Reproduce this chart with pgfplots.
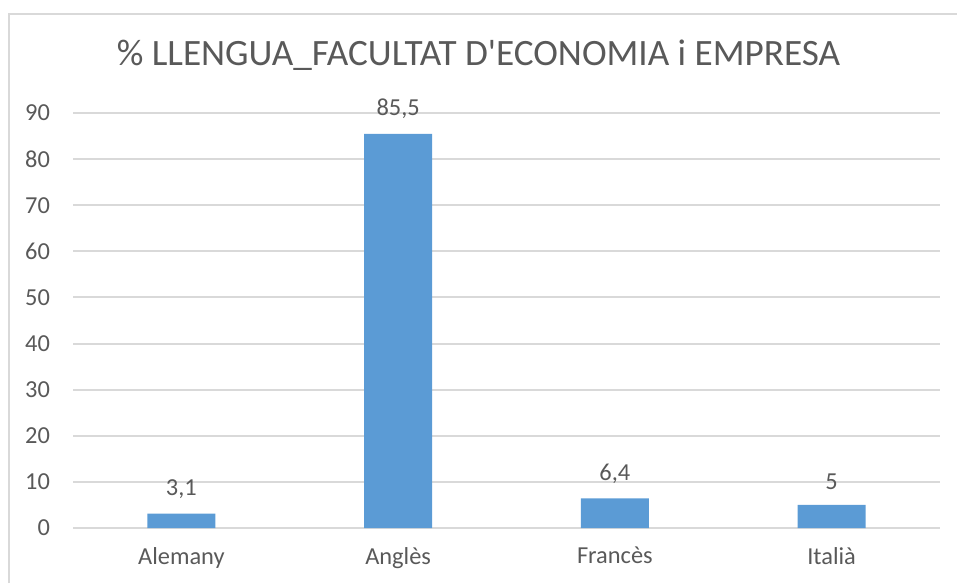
\documentclass[border=0pt]{standalone}
\usepackage{pgfplots}
\pgfplotsset{compat=1.18}
\usepackage{fontspec}
\setmainfont{Carlito}
\definecolor{barblue}{HTML}{5B9BD5}
\definecolor{gridgray}{HTML}{D9D9D9}
\definecolor{txtgray}{HTML}{595959}
\begin{document}
\begin{tikzpicture}
\useasboundingbox (0,0) rectangle (478.5pt,291.5pt);
\draw[gridgray, line width=1pt] (4.5pt,0pt) -- (4.5pt,284.5pt) -- (478.5pt,284.5pt);
\node[txtgray, font=\fontsize{18.6}{22}\selectfont] at (239.25pt,264pt) {\% LLENGUA\_FACULTAT D\textquotesingle ECONOMIA i EMPRESA};
\begin{axis}[
  at={(36.5pt,27.5pt)}, anchor=south west,
  scale only axis, width=433.5pt, height=207.5pt,
  xmin=-0.5, xmax=3.5, ymin=0, ymax=90,
  xtick={0,1,2,3}, xticklabels={Alemany,Anglès,Francès,Italià},
  ytick={0,10,...,90},
  axis line style={draw=none},
  major tick length=0pt,
  ymajorgrids, grid style={gridgray, line width=1pt},
  tick label style={txtgray, font=\fontsize{12.2}{14}\selectfont},
  /pgf/number format/assume math mode=true,
  yticklabel style={xshift=-8pt},
  xticklabel style={yshift=-6pt},
  ybar, bar width=34pt,
  nodes near coords,
  nodes near coords style={txtgray, font=\fontsize{12.2}{14}\selectfont, yshift=4pt},
  point meta=explicit symbolic,
]
\addplot[fill=barblue, draw=none] coordinates {(0,3.1)[3,1] (1,85.5)[85,5] (2,6.4)[6,4] (3,5)[5]};
\end{axis}
\end{tikzpicture}
\end{document}
